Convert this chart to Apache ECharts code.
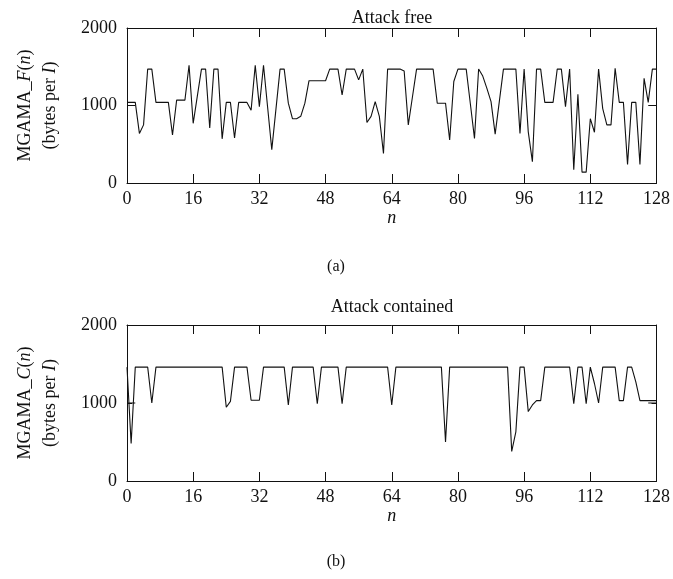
<!DOCTYPE html>
<html><head><meta charset="utf-8">
<script src="https://cdn.jsdelivr.net/npm/echarts@6/dist/echarts.min.js"></script>
<style>html,body{margin:0;padding:0;background:#fff}#c{width:673px;height:579px}</style>
</head><body><div id="c"></div>
<script>
const xMin = 0, xMax = 128, xStep = 16;
const yMin = 0, yMax = 2000, yStep = 1000;
const titles = ['Attack free', 'Attack contained'];
const panelLabels = ['(a)', '(b)'];
const xName = 'n';
// MGAMA_F(n), n = 0..128
const mgamaF = [
  1040,1040,1040,640,750,1470,1470,1040,1040,1040,
  1040,620,1070,1070,1070,1520,770,1120,1470,1470,
  710,1470,1470,570,1040,1040,580,1040,1040,1040,
  940,1520,985,1520,975,430,950,1470,1470,1030,
  830,830,860,1030,1320,1320,1320,1320,1320,1470,
  1470,1470,1135,1470,1470,1470,1330,1470,780,860,
  1050,860,380,1470,1470,1470,1470,1445,750,1110,
  1470,1470,1470,1470,1470,1030,1030,1030,555,1310,
  1470,1470,1470,1022,575,1470,1380,1220,1050,630,
  1050,1470,1470,1470,1470,640,1470,660,275,1470,
  1470,1040,1040,1040,1470,1470,985,1470,170,1145,
  140,140,830,655,1470,960,750,750,1480,1040,
  1040,240,1040,1040,240,1350,1040,1470,1470
];
// MGAMA_C(n), n = 0..128
const mgamaC = [
  1460,480,1460,1460,1460,1460,1000,1460,1460,1460,
  1460,1460,1460,1460,1460,1460,1460,1460,1460,1460,
  1460,1460,1460,1460,945,1020,1460,1460,1460,1460,
  1035,1035,1035,1460,1460,1460,1460,1460,1460,975,
  1460,1460,1460,1460,1460,1460,990,1460,1460,1460,
  1460,1460,990,1460,1460,1460,1460,1460,1460,1460,
  1460,1460,1460,1460,975,1460,1460,1460,1460,1460,
  1460,1460,1460,1460,1460,1460,1460,500,1460,1460,
  1460,1460,1460,1460,1460,1460,1460,1460,1460,1460,
  1460,1460,1460,380,630,1460,1460,890,975,1030,
  1030,1460,1460,1460,1460,1460,1460,1460,990,1460,
  1460,990,1460,1250,1000,1460,1460,1460,1460,1030,
  1030,1460,1460,1270,1030,1030,1030,1030,1030
];
// short reference segments at 1000
const refStartN = [0, 2];
const refEndN = [126, 128];
const refValue = 1000;

const FONT = "'Liberation Serif', 'DejaVu Serif', serif";
const BLACK = '#111';
const chart = echarts.init(document.getElementById('c'), null, {renderer: 'canvas'});

const grids = [
  {left: 127, top: 28, width: 530, height: 155},
  {left: 127, top: 325, width: 530, height: 156}
];
const yNames = [
  '{a|MGAMA_}{i|F}{a|(}{i|n}{a|)}\n{a|(bytes per }{i|I}{a|)}',
  '{a|MGAMA_}{i|C}{a|(}{i|n}{a|)}\n{a|(bytes per }{i|I}{a|)}'
];
const rich = {
  a: {fontFamily: FONT, fontSize: 18, color: BLACK, lineHeight: 25},
  i: {fontFamily: FONT, fontSize: 18, fontStyle: 'italic', color: BLACK, lineHeight: 25}
};
const lineStyle = {color: BLACK, width: 1};
const plain = v => String(v);

const xAxes = [], yAxes = [];
[0, 1].forEach(g => {
  xAxes.push({
    type: 'value', gridIndex: g, min: xMin, max: xMax, interval: xStep, position: 'bottom',
    axisLine: {show: true, onZero: false, lineStyle},
    axisTick: {show: true, inside: true, length: 9, lineStyle},
    axisLabel: {show: true, margin: 7, fontFamily: FONT, fontSize: 18, color: BLACK, formatter: plain},
    splitLine: {show: false},
    name: xName, nameLocation: 'middle', nameGap: 24,
    nameTextStyle: {fontFamily: FONT, fontSize: 18, fontStyle: 'italic', color: BLACK}
  });
  xAxes.push({
    type: 'value', gridIndex: g, min: xMin, max: xMax, interval: xStep, position: 'top',
    axisLine: {show: true, onZero: false, lineStyle},
    axisTick: {show: true, inside: true, length: 9, lineStyle},
    axisLabel: {show: false}, splitLine: {show: false}
  });
  yAxes.push({
    type: 'value', gridIndex: g, min: yMin, max: yMax, interval: yStep, position: 'left',
    axisLine: {show: true, onZero: false, lineStyle},
    axisTick: {show: true, inside: true, length: 5, lineStyle},
    axisLabel: {show: true, margin: 10, fontFamily: FONT, fontSize: 18, color: BLACK, formatter: plain},
    splitLine: {show: false},
    name: yNames[g], nameLocation: 'middle', nameRotate: 90, nameGap: 64,
    nameTextStyle: {rich, lineHeight: 25}
  });
  yAxes.push({
    type: 'value', gridIndex: g, min: yMin, max: yMax, interval: yStep, position: 'right',
    axisLine: {show: true, onZero: false, lineStyle},
    axisTick: {show: true, inside: true, length: 5, lineStyle},
    axisLabel: {show: false}, splitLine: {show: false}
  });
});

const seriesData = [mgamaF, mgamaC];
const series = [];
[0, 1].forEach(g => {
  series.push({
    type: 'line', xAxisIndex: g * 2, yAxisIndex: g * 2, symbol: 'none', animation: false,
    lineStyle: {color: BLACK, width: 1.1}, silent: true,
    data: seriesData[g].map((v, i) => [i, v])
  });
  [refStartN, refEndN].forEach(seg => {
    series.push({
      type: 'line', xAxisIndex: g * 2, yAxisIndex: g * 2, symbol: 'none', animation: false,
      lineStyle: {color: BLACK, width: 1.1}, silent: true,
      data: seg.map(n => [n, refValue])
    });
  });
});

const graphic = [
  {type: 'text', x: 392, y: 18, style: {text: titles[0], font: '18px ' + FONT, fill: BLACK, align: 'center', verticalAlign: 'middle'}},
  {type: 'text', x: 392, y: 307, style: {text: titles[1], font: '18px ' + FONT, fill: BLACK, align: 'center', verticalAlign: 'middle'}},
  {type: 'text', x: 336, y: 267, style: {text: panelLabels[0], font: '16px ' + FONT, fill: BLACK, align: 'center', verticalAlign: 'middle'}},
  {type: 'text', x: 336, y: 562, style: {text: panelLabels[1], font: '16px ' + FONT, fill: BLACK, align: 'center', verticalAlign: 'middle'}}
];

chart.setOption({
  animation: false,
  backgroundColor: '#fff',
  grid: grids,
  xAxis: xAxes,
  yAxis: yAxes,
  series,
  graphic
});
</script></body></html>
